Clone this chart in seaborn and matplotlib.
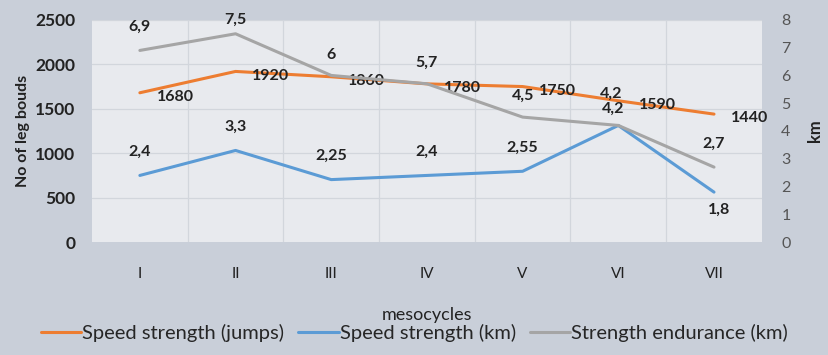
import pandas as pd
import matplotlib.pyplot as plt
import seaborn as sns

# Data
mesocycles = ['I', 'II', 'III', 'IV', 'V', 'VI', 'VII']
jumps = [1680, 1920, 1860, 1780, 1750, 1590, 1440]
speed_km = [2.4, 3.3, 2.25, 2.4, 2.55, 4.2, 1.8]
endurance_km = [6.9, 7.5, 6, 5.7, 4.5, 4.2, 2.7]

jumps_lbl = ['1680', '1920', '1860', '1780', '1750', '1590', '1440']
speed_lbl = ['2,4', '3,3', '2,25', '2,4', '2,55', '4,2', '1,8']
endur_lbl = ['6,9', '7,5', '6', '5,7', '4,5', '4,2', '2,7']

c_orange = '#ED7D31'
c_blue = '#5B9BD5'
c_gray = '#A5A5A5'
fig_bg = '#c9cfd9'
ax_bg = '#e8eaee'

sns.set_style('white')
plt.rcParams['font.family'] = ['Lato', 'DejaVu Sans']

df = pd.DataFrame({'x': range(len(mesocycles)), 'jumps': jumps,
                   'speed': speed_km, 'endur': endurance_km})

fig, ax = plt.subplots(figsize=(8.29, 3.55), dpi=100)
fig.patch.set_facecolor(fig_bg)
ax.set_facecolor(ax_bg)
ax2 = ax.twinx()

sns.lineplot(data=df, x='x', y='jumps', ax=ax, color=c_orange, lw=2.2,
             label='Speed strength (jumps)', legend=False)
sns.lineplot(data=df, x='x', y='speed', ax=ax2, color=c_blue, lw=2.2,
             label='Speed strength (km)', legend=False)
sns.lineplot(data=df, x='x', y='endur', ax=ax2, color=c_gray, lw=2.2,
             label='Strength endurance (km)', legend=False)

ax.set_xlim(-0.5, len(mesocycles) - 0.5)
ax.set_ylim(0, 2500)
ax2.set_ylim(0, 8)
ax.set_yticks(range(0, 2501, 500))
ax2.set_yticks(range(0, 9))

# gridlines: horizontal on left axis, vertical at category boundaries
for y in range(500, 2501, 500):
    ax.axhline(y, color='#d2d6dc', lw=0.9, zorder=0)
for i in range(1, len(mesocycles)):
    ax.axvline(i - 0.5, color='#d2d6dc', lw=0.9, zorder=0)

ax.set_xticks(range(len(mesocycles)))
ax.set_xticklabels(mesocycles)
ax.tick_params(axis='x', length=0, pad=18, labelsize=11, colors='#222222')
ax.tick_params(axis='y', length=0, pad=12, labelsize=12.5, colors='#222222')
for t in ax.get_yticklabels():
    t.set_fontweight('bold')
ax2.tick_params(axis='y', length=0, pad=14, labelsize=11.5, colors='#555555')

ax.set_xlabel('mesocycles', fontsize=13, color='#222222', labelpad=19)
ax.set_ylabel('No of leg bouds', fontsize=11.5, fontweight='bold', color='#222222')
ax2.set_ylabel('km', fontsize=12, fontweight='bold', color='#222222', labelpad=12)

for a in (ax, ax2):
    for s in a.spines.values():
        s.set_visible(False)

# data labels
for i, (v, t) in enumerate(zip(jumps, jumps_lbl)):
    dx = 15 if i == 5 else 12
    ax.annotate(t, (i, v), xytext=(dx, -3), textcoords='offset points',
                ha='left', va='center', fontsize=11.5, fontweight='bold', color='#222222')
speed_off = [(0, 12), (0, 12), (0, 12), (0, 12), (0, 12), (-4, 7), (4, -8)]
for i, (v, t) in enumerate(zip(speed_km, speed_lbl)):
    dx, dy = speed_off[i]
    ax2.annotate(t, (i, v), xytext=(dx, dy), textcoords='offset points',
                 ha='center', va='bottom' if dy > 0 else 'top',
                 fontsize=11.5, fontweight='bold', color='#222222')
endur_off = [(0, 12), (0, 5), (0, 10), (0, 10), (0, 10), (-5, 18), (0, 12)]
for i, (v, t) in enumerate(zip(endurance_km, endur_lbl)):
    dx, dy = endur_off[i]
    ax2.annotate(t, (i, v), xytext=(dx, dy), textcoords='offset points',
                 ha='center', va='bottom', fontsize=11.5, fontweight='bold', color='#222222')

h1, l1 = ax.get_legend_handles_labels()
h2, l2 = ax2.get_legend_handles_labels()
fig.legend(h1 + h2, l1 + l2, loc='lower center', ncol=3, frameon=False,
           fontsize=14.5, handlelength=2.0, handletextpad=0.05, columnspacing=0.7,
           bbox_to_anchor=(0.5, -0.015))

fig.subplots_adjust(left=0.111, right=0.919, top=0.944, bottom=0.318)
fig.savefig('out.png', dpi=100, facecolor=fig.get_facecolor())
